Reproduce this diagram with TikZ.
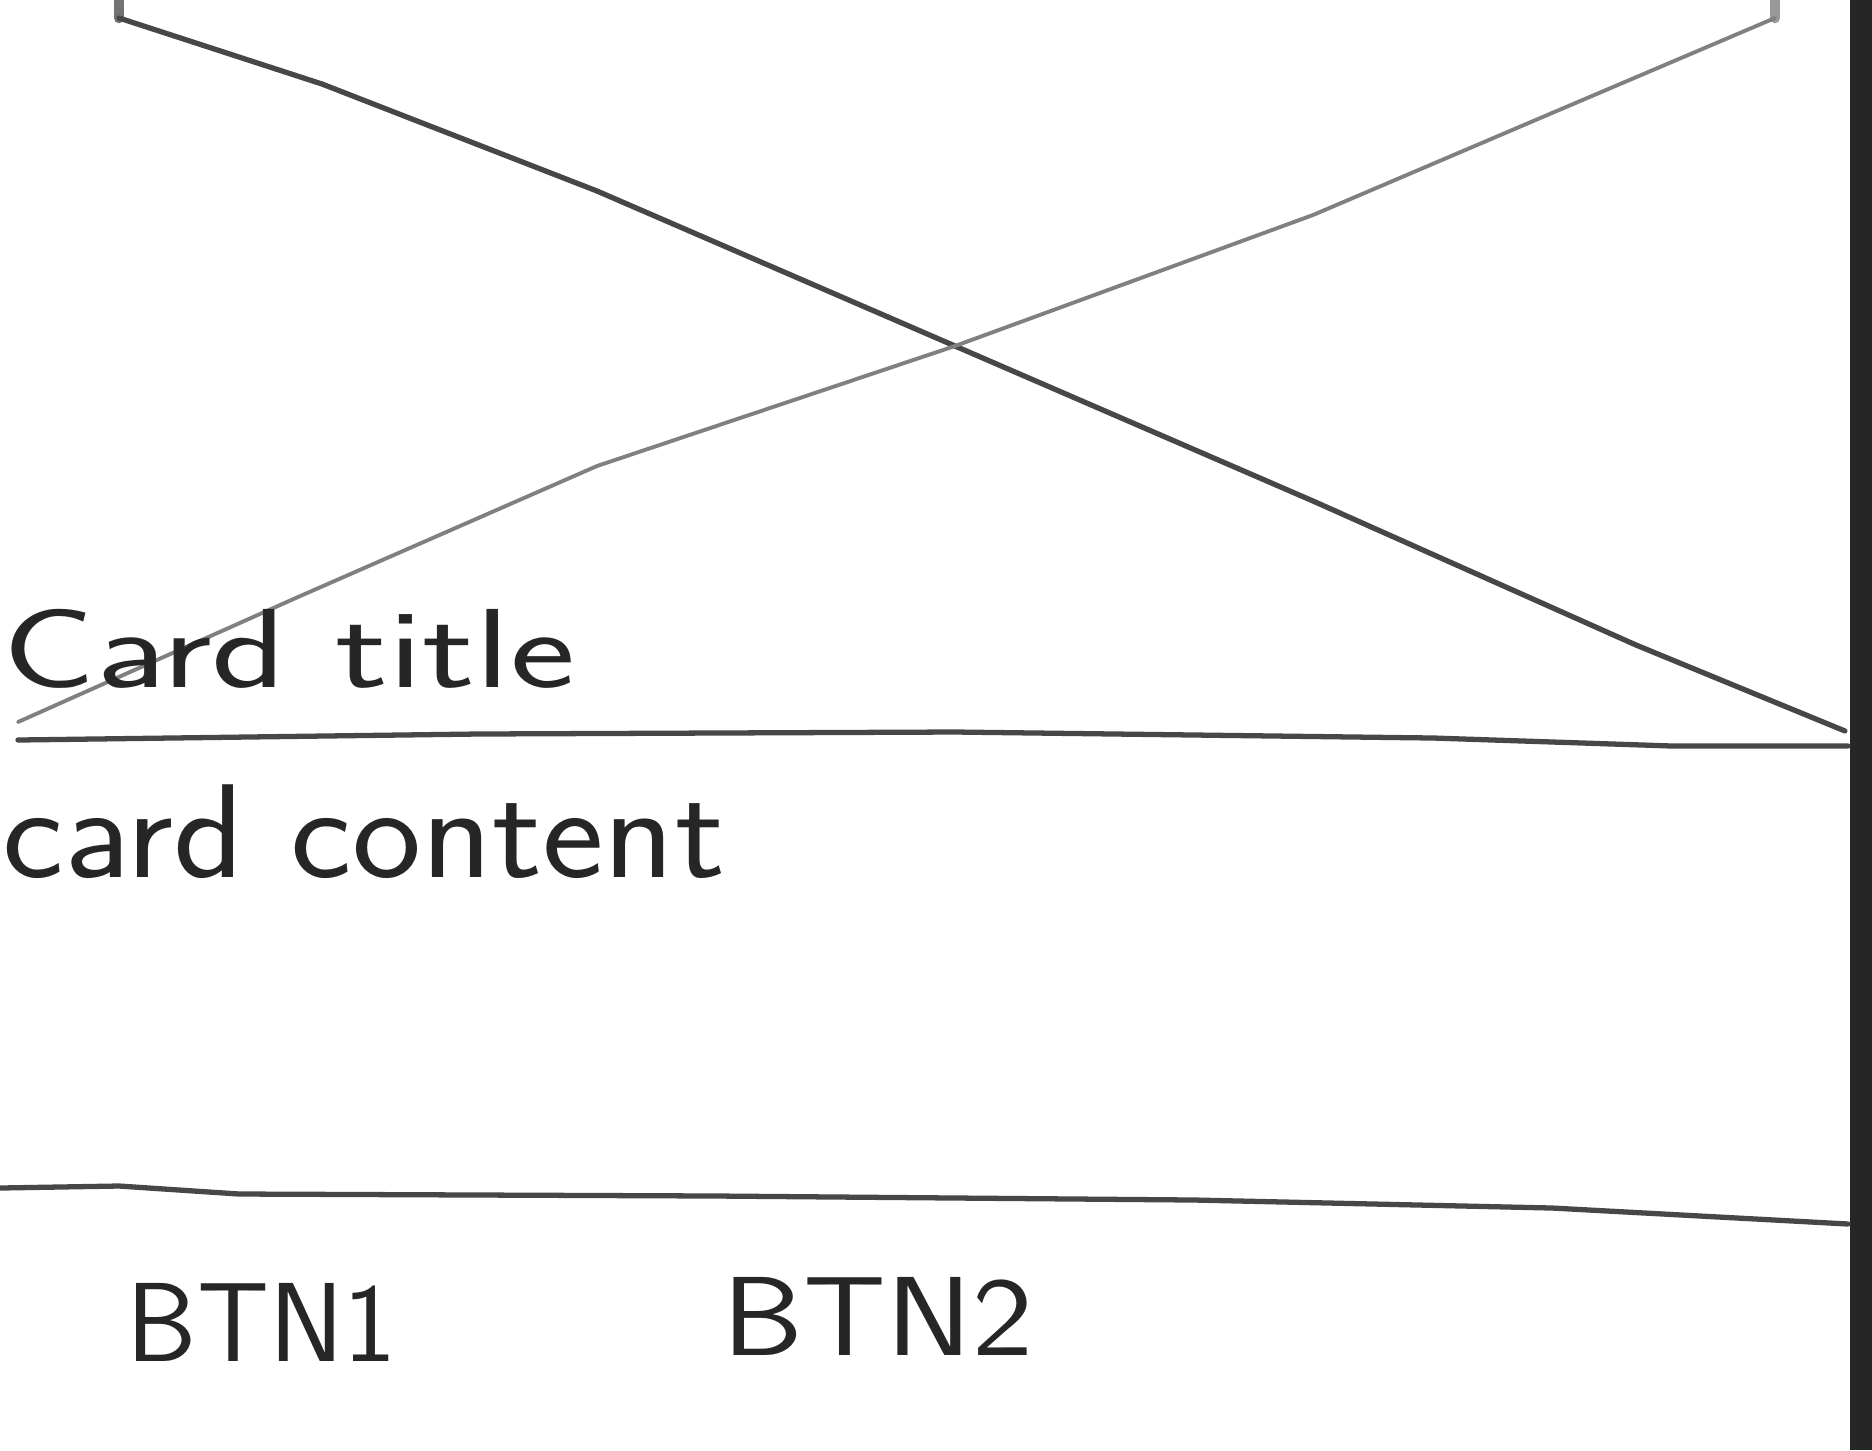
\documentclass[tikz,border=0pt]{standalone}
\usepackage{tikz}
\usepackage{graphicx}
\usetikzlibrary{calc}

\begin{document}
\begin{tikzpicture}[x=0.01cm,y=-0.01cm]
    \tikzstyle{every node}=[inner sep=0pt,anchor=base west,text=black!85,font=\sffamily\fontsize{36}{40}\selectfont]
    \tikzstyle{pencil}=[line width=1.5pt,draw=black!72,line cap=round,line join=round]
    \tikzstyle{faint}=[pencil,draw=black!50,line width=1.1pt]
    \useasboundingbox[fill=white] (0,0) rectangle (1872,1450);

    % scanner edge
    \fill[black!85] (1850,0) rectangle (1872,1450);

    % image placeholder (crossed box)
    \coordinate (imgtl) at (119,18);
    \coordinate (imgtr) at (1775,18);
    \coordinate (imgbl) at (18,722);
    \coordinate (imgbr) at (1845,731);
    \draw[pencil,black!55,line width=3pt] (imgtl) -- ++(0,-18);
    \draw[pencil,black!40,line width=3pt] (imgtr) -- ++(0,-18);
    \draw[pencil] (imgtl) -- (322,84) -- (597,191) -- (955,346) -- (1313,501) -- (1636,645) -- (imgbr);
    \draw[faint] (imgtr) -- (1552,113) -- (1313,215) -- (955,346) -- (597,466) -- (298,597) -- (imgbl);

    % card title
    \node[font=\sffamily\fontsize{32}{36}\selectfont] (title) at (2,687) {\scalebox{1.38}[1]{Card title}};

    % divider under title
    \draw[pencil] (18,740) -- (478,734) -- (955,732) -- (1433,738) -- (1672,746) -- (1848,746);

    % card content
    \node[font=\sffamily\fontsize{38}{42}\selectfont] (content) at (2,877) {\scalebox{1.1}[1]{card content}};

    % divider above buttons
    \draw[pencil] (0,1188) -- (119,1186) -- (239,1194) -- (716,1196) -- (1194,1200) -- (1552,1208) -- (1848,1224);

    % buttons
    \node[font=\sffamily\fontsize{32}{36}\selectfont] (btna) at (126,1361) {BTN1};
    \node[font=\sffamily\fontsize{32}{36}\selectfont] (btnb) at (722,1355) {\scalebox{1.15}[1]{BTN2}};

\end{tikzpicture}
\end{document}
